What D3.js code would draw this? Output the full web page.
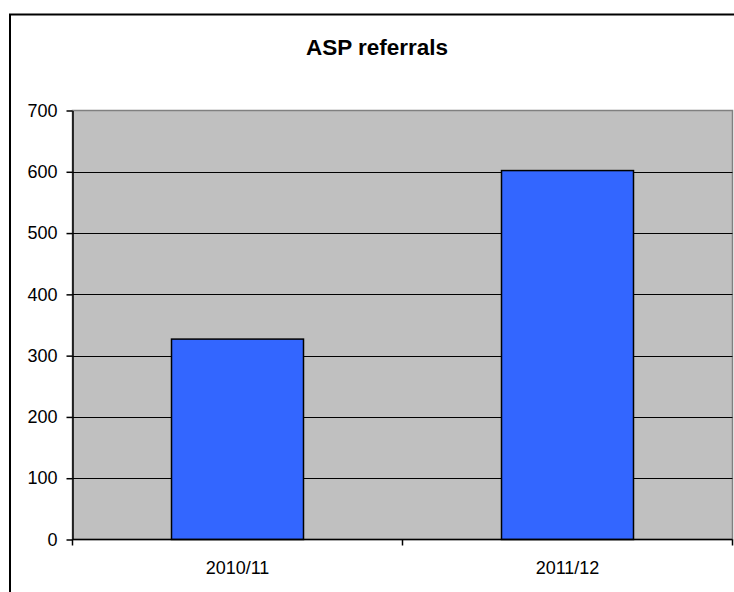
<!DOCTYPE html>
<html>
<head>
<meta charset="utf-8">
<script src="https://cdn.jsdelivr.net/npm/d3@7"></script>
<style>
  html, body { margin: 0; padding: 0; background: #fff; overflow: hidden; }
  svg { display: block; font-family: "Liberation Sans", Arial, sans-serif; }
</style>
</head>
<body>
<svg id="chart" width="734" height="592"></svg>
<script>
// ASP referrals per financial year
const categories = ["2010/11", "2011/12"];
const referrals = [327, 602];
const yTicks = [0, 100, 200, 300, 400, 500, 600, 700];
const chartTitle = "ASP referrals";

const svg = d3.select("#chart");

// outer chart frame: only the top and left edges fall inside the view
svg.append("path")
  .attr("d", "M10,600V14.5H740")
  .attr("fill", "none")
  .attr("stroke", "#000")
  .attr("stroke-width", 2);

const plot = { left: 72.5, right: 732.5, top: 110.5, bottom: 539.5 };

const x = d3.scaleBand()
  .domain(categories)
  .range([plot.left, plot.right])
  .padding(0);

const y = d3.scaleLinear()
  .domain([0, 700])
  .range([plot.bottom, plot.top]);

// plot area background
svg.append("rect")
  .attr("x", plot.left).attr("y", plot.top)
  .attr("width", plot.right - plot.left)
  .attr("height", plot.bottom - plot.top)
  .attr("fill", "#c0c0c0")
  .attr("stroke", "#808080")
  .attr("stroke-width", 1.5);

// horizontal gridlines
svg.append("g")
  .selectAll("line")
  .data(yTicks.filter(d => d > 0 && d < 700))
  .join("line")
  .attr("x1", plot.left).attr("x2", plot.right)
  .attr("y1", d => Math.round(y(d)) + 0.5)
  .attr("y2", d => Math.round(y(d)) + 0.5)
  .attr("stroke", "#000")
  .attr("stroke-width", 1);

// bars
const barFrac = 0.4;
svg.append("g")
  .selectAll("rect")
  .data(categories.map((c, i) => ({ c, v: referrals[i] })))
  .join("rect")
  .attr("x", d => x(d.c) + x.bandwidth() * (1 - barFrac) / 2)
  .attr("width", x.bandwidth() * barFrac)
  .attr("y", d => y(d.v))
  .attr("height", d => y(0) - y(d.v))
  .attr("fill", "#3366ff")
  .attr("stroke", "#000")
  .attr("stroke-width", 1.5);

// y axis
const yAxis = d3.axisLeft(y)
  .tickValues(yTicks)
  .tickSize(6)
  .tickPadding(9)
  .tickSizeOuter(0);

const gy = svg.append("g")
  .attr("transform", `translate(${plot.left},0)`)
  .call(yAxis);
gy.select(".domain").attr("stroke", "#000").attr("stroke-width", 1.5);
gy.selectAll(".tick line").attr("stroke", "#000").attr("stroke-width", 1.5);
gy.selectAll(".tick text")
  .attr("font-size", 18)
  .attr("fill", "#000")
  .attr("font-family", "'Liberation Sans', Arial, sans-serif");

// x axis: baseline plus tick marks at category boundaries
svg.append("line")
  .attr("x1", plot.left).attr("x2", plot.right)
  .attr("y1", plot.bottom).attr("y2", plot.bottom)
  .attr("stroke", "#000").attr("stroke-width", 1.5);

const boundaries = categories.map(c => x(c)).concat([x(categories[categories.length - 1]) + x.bandwidth()]);
svg.append("g")
  .selectAll("line")
  .data(boundaries)
  .join("line")
  .attr("x1", d => d).attr("x2", d => d)
  .attr("y1", plot.bottom).attr("y2", plot.bottom + 6)
  .attr("stroke", "#000").attr("stroke-width", 1.5);

svg.append("g")
  .selectAll("text")
  .data(categories)
  .join("text")
  .attr("x", d => x(d) + x.bandwidth() / 2)
  .attr("y", 574)
  .attr("text-anchor", "middle")
  .attr("font-size", 18)
  .attr("fill", "#000")
  .text(d => d);

// title
svg.append("text")
  .attr("x", 377)
  .attr("y", 55)
  .attr("text-anchor", "middle")
  .attr("font-size", 22.5)
  .attr("font-weight", "bold")
  .attr("fill", "#000")
  .text(chartTitle);
</script>
</body>
</html>
